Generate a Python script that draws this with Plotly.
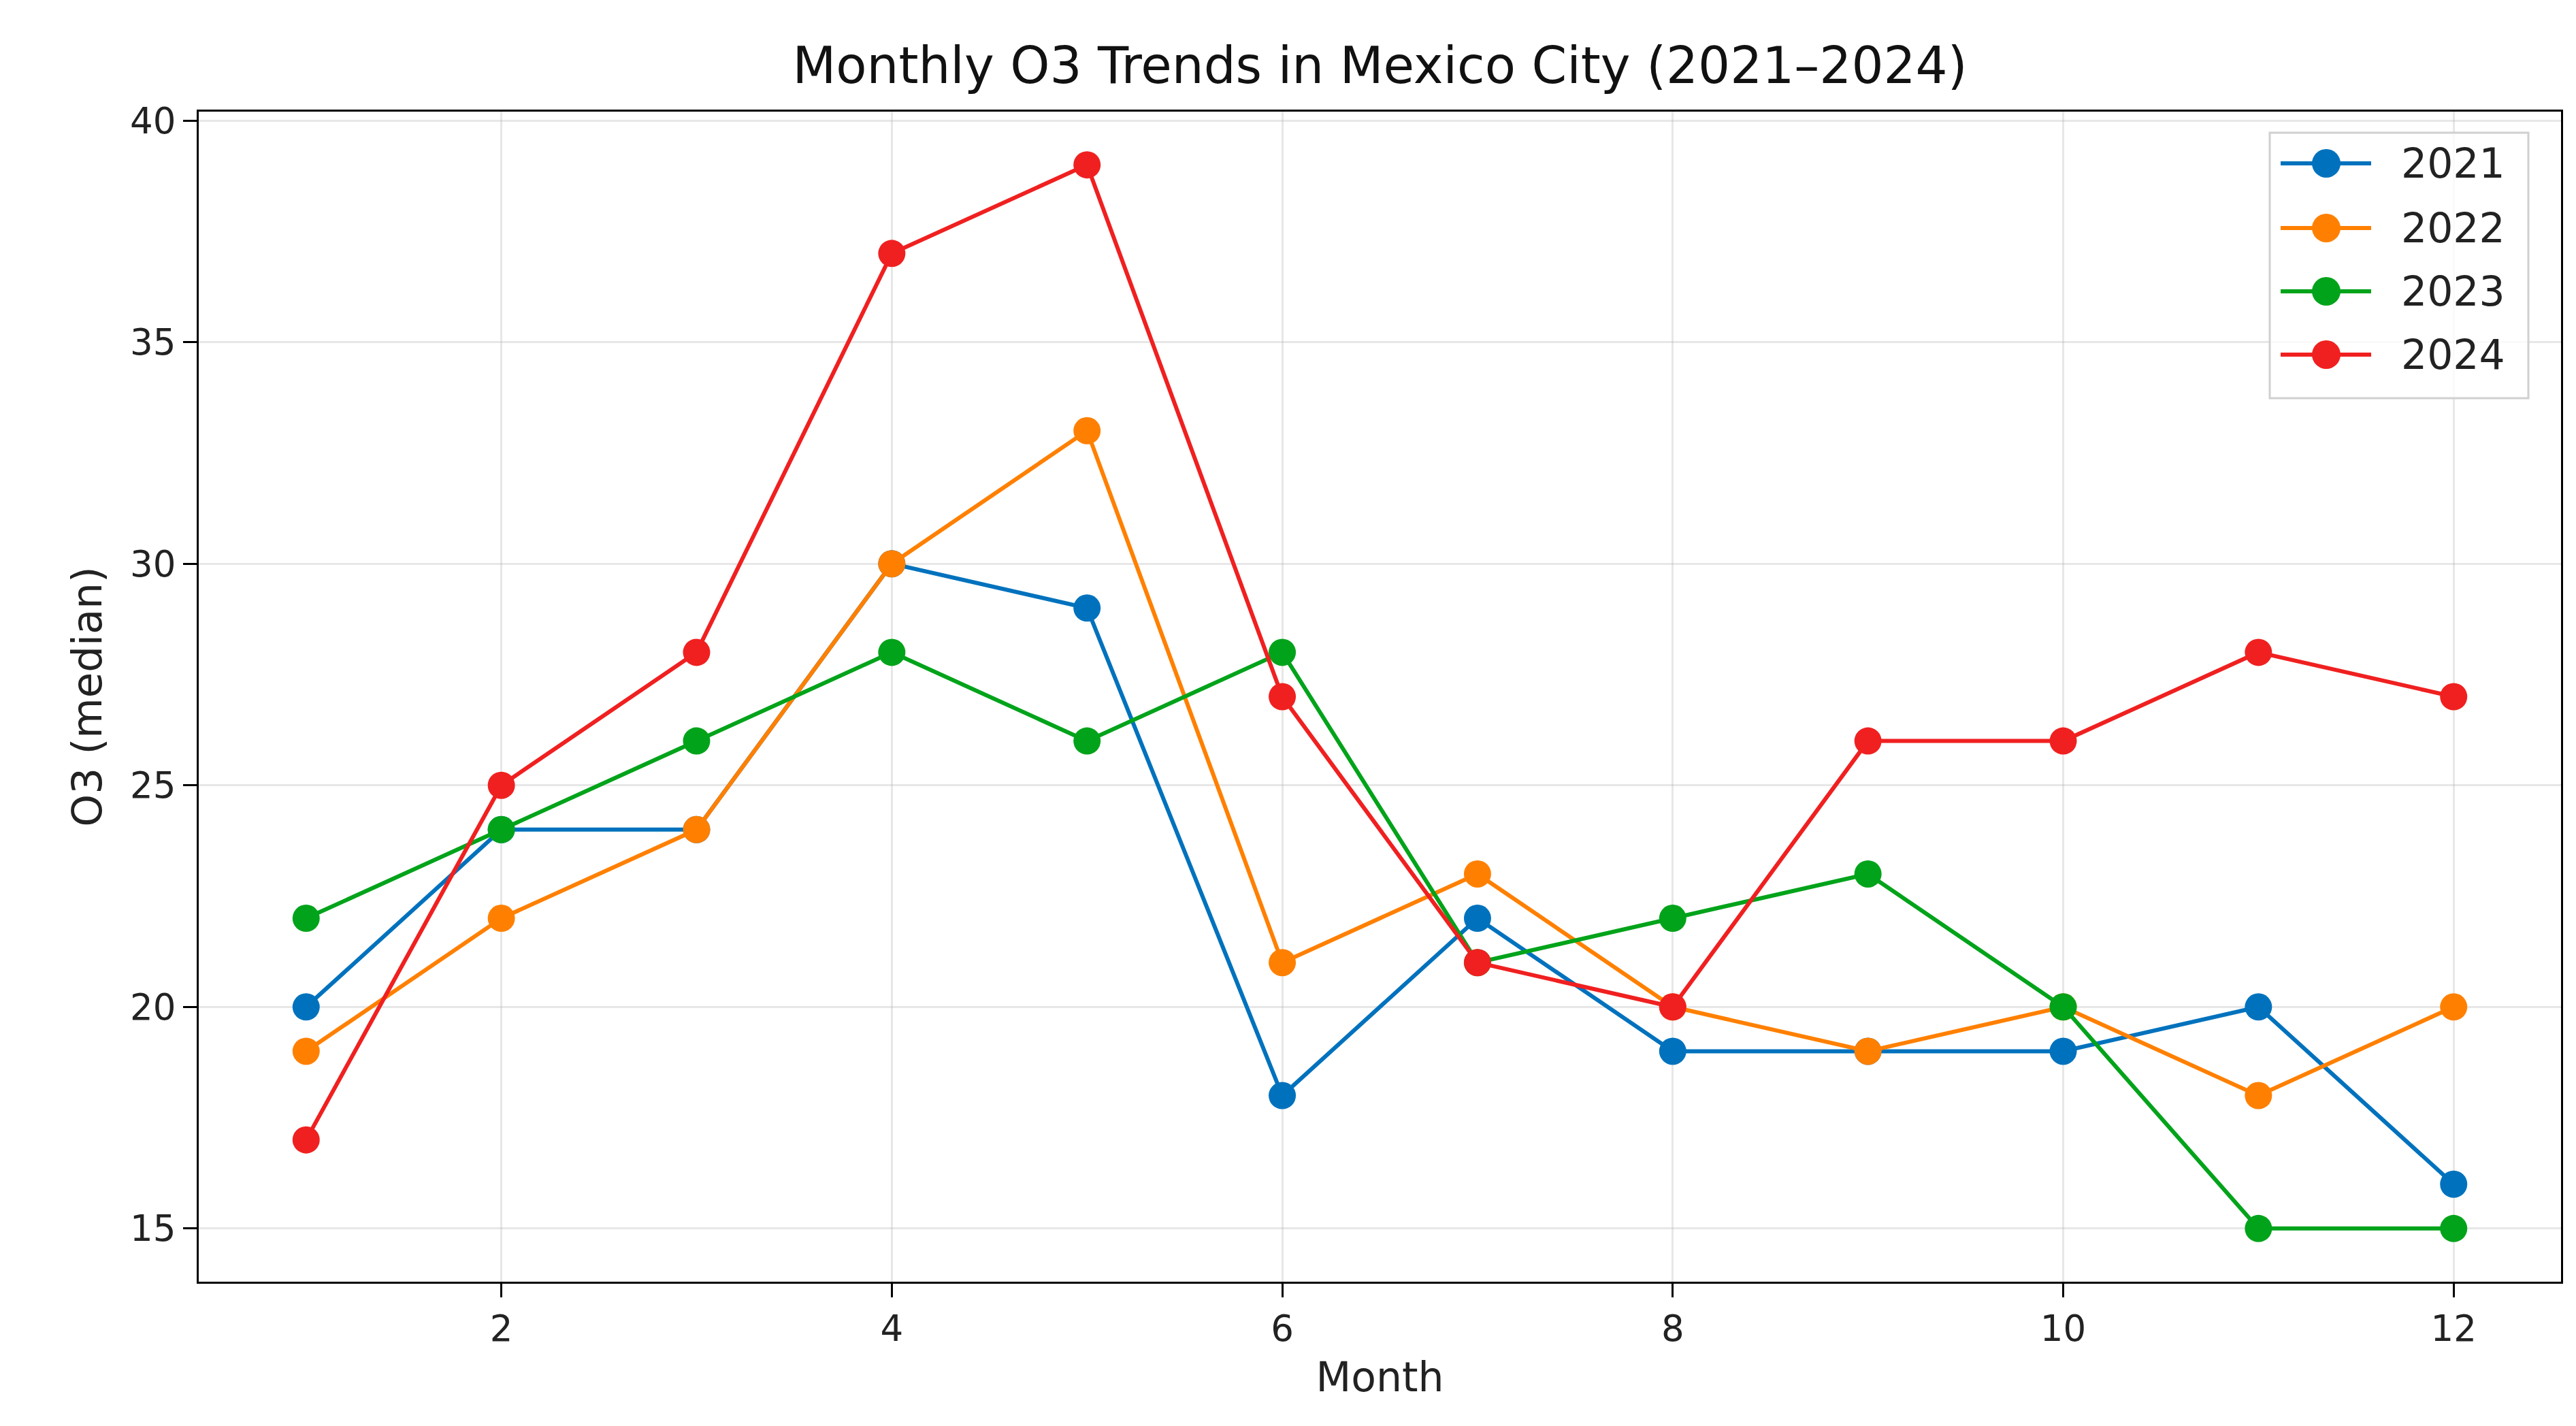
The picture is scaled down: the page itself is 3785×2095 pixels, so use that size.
import plotly.graph_objects as go

months = list(range(1, 13))
years = ["2021", "2022", "2023", "2024"]
o3_2021 = [20, 24, 24, 30, 29, 18, 22, 19, 19, 19, 20, 16]
o3_2022 = [19, 22, 24, 30, 33, 21, 23, 20, 19, 20, 18, 20]
o3_2023 = [22, 24, 26, 28, 26, 28, 21, 22, 23, 20, 15, 15]
o3_2024 = [17, 25, 28, 37, 39, 27, 21, 20, 26, 26, 28, 27]
series = [o3_2021, o3_2022, o3_2023, o3_2024]
colors = ["#0072bd", "#ff8000", "#00a31a", "#f02020"]

W, H = 3785, 2095
L, R, T, B = 284, 3755, 156, 1875  # plot area in pixels
FONT = "DejaVu Sans"

fig = go.Figure()
for name, vals, col in zip(years, series, colors):
    fig.add_trace(go.Scatter(
        x=months, y=vals, name=name, mode="lines+markers",
        line=dict(color=col, width=6),
        marker=dict(color=col, size=40),
        showlegend=False,
    ))

def px(x):
    return (x - L) / (R - L)

def py(y):
    return (B - y) / (B - T)

shapes = []
annotations = []
# custom legend box
shapes.append(dict(type="rect", xref="paper", yref="paper",
                   x0=px(3327), x1=px(3707), y0=py(577), y1=py(187),
                   line=dict(color="#d0d0d0", width=3), fillcolor="rgba(255,255,255,0.8)",
                   layer="above"))
row_y = [232, 327, 420, 513]
for name, col, yy in zip(years, colors, row_y):
    shapes.append(dict(type="line", xref="paper", yref="paper",
                       x0=px(3343), x1=px(3476), y0=py(yy), y1=py(yy),
                       line=dict(color=col, width=6), layer="above"))
    r = 21
    shapes.append(dict(type="circle", xref="paper", yref="paper",
                       x0=px(3410 - r), x1=px(3410 + r), y0=py(yy + r), y1=py(yy - r),
                       line=dict(color=col, width=0), fillcolor=col, layer="above"))
    annotations.append(dict(text=name, xref="paper", yref="paper",
                            x=px(3518), y=py(yy), xanchor="left", yanchor="middle",
                            showarrow=False, font=dict(family=FONT, size=60, color="#222222")))

fig.update_layout(
    width=W, height=H,
    margin=dict(l=L, r=W - R, t=T, b=H - B),
    paper_bgcolor="white", plot_bgcolor="white",
    font=dict(family=FONT, size=53, color="#222222"),
    title=dict(text="Monthly O3 Trends in Mexico City (2021–2024)",
               x=(L + R) / 2 / W, xanchor="center",
               yref="container", y=1 - 88 / H, yanchor="middle",
               font=dict(family=FONT, size=74, color="#111111")),
    shapes=shapes,
    annotations=annotations,
    showlegend=False,
)
fig.update_xaxes(
    range=[0.45, 12.55], tick0=0, dtick=2,
    showline=True, linecolor="black", linewidth=3, mirror=True,
    ticks="outside", ticklen=20, tickwidth=3, tickcolor="black",
    showgrid=True, gridcolor="rgba(176,176,176,0.3)", gridwidth=3,
    zeroline=False,
    title=dict(text="Month", font=dict(family=FONT, size=60), standoff=22),
    tickfont=dict(family=FONT, size=53, color="#222222"),
)
fig.update_yaxes(
    range=[13.8, 40.2], tick0=0, dtick=5,
    showline=True, linecolor="black", linewidth=3, mirror=True,
    ticks="outside", ticklen=20, tickwidth=3, tickcolor="black",
    showgrid=True, gridcolor="rgba(176,176,176,0.3)", gridwidth=3,
    zeroline=False,
    title=dict(text="O3 (median)", font=dict(family=FONT, size=61), standoff=22),
    tickfont=dict(family=FONT, size=53, color="#222222"),
)

fig.write_html("out.html")
